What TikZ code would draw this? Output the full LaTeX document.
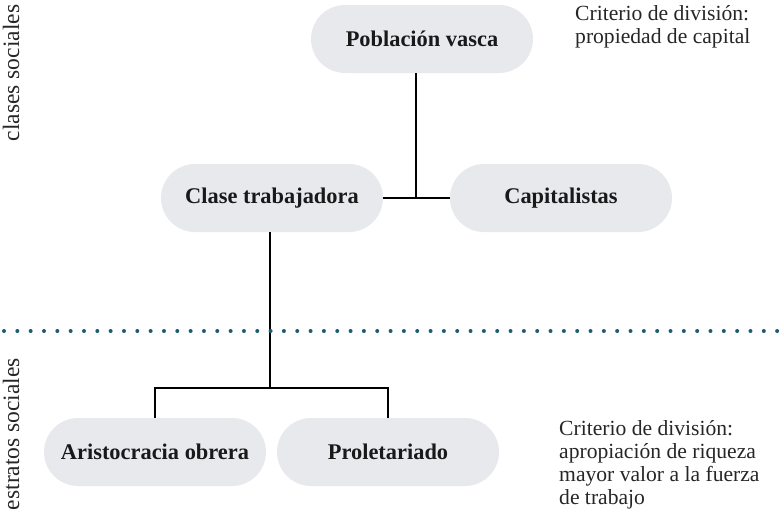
\documentclass[tikz,border=0pt]{standalone}
\usepackage{fontspec}
\setmainfont{Liberation Serif}
\usepackage{tikz}
\definecolor{pillgray}{HTML}{E8E9EC}
\definecolor{dotteal}{HTML}{1D5C72}
\tikzset{
  pill/.style={fill=pillgray, rounded corners=34pt, minimum width=222pt, minimum height=68pt,
    font=\fontsize{22.4}{26}\selectfont\bfseries, text=black!90},
  link/.style={line width=2pt},
  side/.style={rotate=90, inner sep=0pt, font=\fontsize{23.5}{26}\selectfont, text=black!85},
  note/.style={align=left, anchor=north west, inner sep=0pt, font=\fontsize{21.6}{23}\selectfont, text=black!85},
  dotline/.style={dotteal, line width=4pt, line cap=round, dash pattern=on 0pt off 13.33pt}
}

\begin{document}
\begin{tikzpicture}[x=1pt,y=-1pt]
  \useasboundingbox (0,0) rectangle (782,514);

  \node[side] at (11,73) (cs) {clases sociales};
  \node[side] at (11,434) (es) {estratos sociales};

  \node[pill] at (422,39) (pob) {Población vasca};
  \node[pill] at (272,198) (cla) {Clase trabajadora};
  \node[pill] at (561,198) (cap) {Capitalistas};
  \node[pill] at (155,452) (ari) {Aristocracia obrera};
  \node[pill] at (388,452) (pro) {Proletariado};

  \coordinate (j1) at (416,198);
  \coordinate (j2) at (270,388);
  \draw[link] (j1 |- pob.south) -- (j1);
  \draw[link] (cla.east) -- (cap.west);
  \draw[link] (j2 |- cla.south) -- (j2);
  \draw[link] (ari.north) |- (j2) -| (pro.north);

  \draw[dotline] (4,331) -- (782,331);

  \node[note] at (575,5) (n1) {Criterio de división:\\propiedad de capital};
  \node[note] at (559,420) (n2) {Criterio de división:\\apropiación de riqueza\\mayor valor a la fuerza\\de trabajo};

\end{tikzpicture}
\end{document}
